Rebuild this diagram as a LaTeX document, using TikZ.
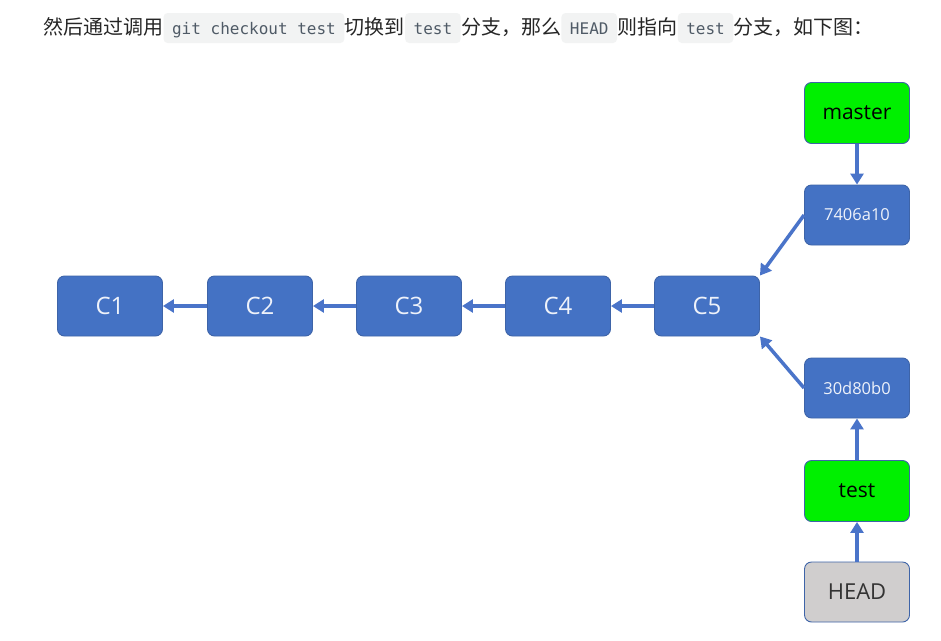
\documentclass[tikz,border=0pt]{standalone}
\usepackage{fontspec}
\setmainfont{Open Sans}
\newfontfamily\cjk{Noto Sans CJK SC}
\setmonofont{DejaVu Sans Mono}
\usetikzlibrary{arrows.meta}
\definecolor{nodeblue}{HTML}{4472C4}
\definecolor{nodeborder}{HTML}{3E64A8}
\definecolor{arrowblue}{HTML}{4A74C9}
\definecolor{nodetext}{HTML}{EEF2FA}
\definecolor{branchgreen}{HTML}{00F000}
\definecolor{headgray}{HTML}{D0CECE}
\definecolor{codebg}{HTML}{F2F3F3}
\definecolor{codetext}{HTML}{4F5A66}
\definecolor{bodytext}{HTML}{262626}
\tikzset{
  txt/.style={inner sep=0pt, anchor=base west, text=bodytext, font=\cjk\fontsize{20}{24}\selectfont},
  code/.style={inner xsep=8.5pt, inner ysep=7pt, text height=14pt, text depth=2pt, anchor=base west,
    fill=codebg, rounded corners=4pt, text=codetext, font=\ttfamily\fontsize{16}{19}\selectfont},
  box/.style={draw=nodeborder, line width=0.9pt, rounded corners=7pt, minimum width=105pt,
    minimum height=60pt, inner sep=0pt},
  commit/.style={box, fill=nodeblue, text=nodetext, font=\fontsize{24}{28}\selectfont},
  hash/.style={box, fill=nodeblue, text=nodetext, font=\fontsize{16.5}{19}\selectfont},
  branch/.style={box, fill=branchgreen, text=black, font=\fontsize{21}{25}\selectfont},
  headbox/.style={box, fill=headgray, text=black!80, font=\fontsize{22}{26}\selectfont},
  conn/.style={draw=arrowblue, line width=3.5pt, -{Triangle[length=11pt,width=13pt]}}
}
\begin{document}
\begin{tikzpicture}[x=1pt,y=-1pt]
\useasboundingbox[fill=white] (0,0) rectangle (941,640);
% text line
\node[txt] (t1) at (43,34) {然后通过调用};
\node[code] (k1) at (t1.base east) {git checkout test};
\node[txt] (t2) at (k1.base east) {切换到};
\node[code] (k2) at (t2.base east) {test};
\node[txt] (t3) at (k2.base east) {分支，那么};
\node[code] (k3) at (t3.base east) {HEAD};
\node[txt] (t4) at (k3.base east) {则指向};
\node[code] (k4) at (t4.base east) {test};
\node[txt] (t5) at (k4.base east) {分支，如下图：};
% commits
\node[commit] (c1) at (110,306) {C1};
\node[commit] (c2) at (260,306) {C2};
\node[commit] (c3) at (409,306) {C3};
\node[commit] (c4) at (558,306) {C4};
\node[commit] (c5) at (707,306) {C5};
\node[branch, minimum height=61pt] (master) at (857,113) {master};
\node[hash] (h1) at (857,215) {7406a10};
\node[hash] (h2) at (857,388) {30d80b0};
\node[branch, minimum height=61pt] (test) at (857,491) {test};
\node[headbox] (head) at (857,592) {HEAD};
% connectors
\draw[conn] (c2.west) -- (c1.east);
\draw[conn] (c3.west) -- (c2.east);
\draw[conn] (c4.west) -- (c3.east);
\draw[conn] (c5.west) -- (c4.east);
\draw[conn] (master.south) -- (h1.north);
\draw[conn] (h1.west) -- (c5.north east);
\draw[conn] (h2.west) -- (c5.south east);
\draw[conn] (test.north) -- (h2.south);
\draw[conn] (head.north) -- (test.south);
\end{tikzpicture}
\end{document}
